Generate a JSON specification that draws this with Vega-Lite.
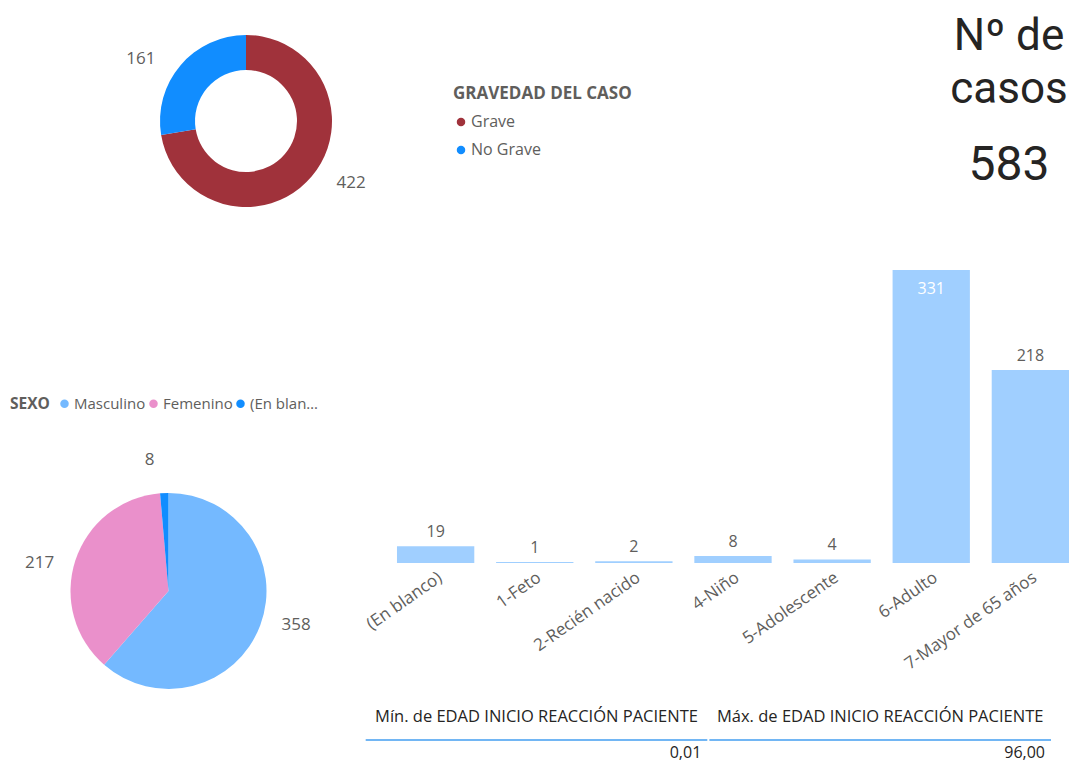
{
  "$schema": "https://vega.github.io/schema/vega-lite/v6.json",
  "padding": {"left": 0, "top": 0, "right": 0, "bottom": 4},
  "background": "white",
  "spacing": 18,
  "resolve": {"scale": {"color": "independent"}, "legend": {"color": "independent"}},
  "datasets": {
    "gravedad": [
      {"gravedad": "Grave", "casos": 422},
      {"gravedad": "No Grave", "casos": 161}
    ],
    "sexo": [
      {"variable": "SEXO", "sexo": "Masculino", "casos": 358},
      {"variable": "SEXO", "sexo": "Femenino", "casos": 217},
      {"variable": "SEXO", "sexo": "(En blanco)", "casos": 8}
    ],
    "edad": [
      {"grupo": "(En blanco)", "casos": 19},
      {"grupo": "1-Feto", "casos": 1},
      {"grupo": "2-Recién nacido", "casos": 2},
      {"grupo": "4-Niño", "casos": 8},
      {"grupo": "5-Adolescente", "casos": 4},
      {"grupo": "6-Adulto", "casos": 331},
      {"grupo": "7-Mayor de 65 años", "casos": 218}
    ],
    "tabla": [
      {"medida": "Mín. de EDAD INICIO REACCIÓN PACIENTE", "valor": 0.01},
      {"medida": "Máx. de EDAD INICIO REACCIÓN PACIENTE", "valor": 96}
    ]
  },
  "config": {
    "view": {"stroke": null},
    "font": "Open Sans",
    "locale": {"number": {"decimal": ",", "thousands": ".", "grouping": [3], "currency": ["", " €"]}},
    "legend": {
      "symbolType": "circle",
      "symbolSize": 72,
      "labelFontSize": 15,
      "labelColor": "#605E5C",
      "titleFontSize": 15.5,
      "titleFontWeight": "bold",
      "titleColor": "#605E5C",
      "labelOffset": 2,
      "symbolStrokeWidth": 0
    }
  },
  "vconcat": [
    {
      "bounds": "flush",
      "spacing": 455,
      "resolve": {"scale": {"color": "independent"}, "legend": {"color": "independent"}},
      "hconcat": [
        {
          "width": 492,
          "height": 242,
          "data": {"name": "gravedad"},
          "encoding": {
            "theta": {"field": "casos", "type": "quantitative", "stack": true},
            "order": {"field": "casos", "sort": "descending"}
          },
          "layer": [
            {
              "mark": {"type": "arc", "outerRadius": 86, "innerRadius": 51},
              "encoding": {
                "color": {
                  "field": "gravedad",
                  "type": "nominal",
                  "scale": {"domain": ["Grave", "No Grave"], "range": ["#A0323B", "#118DFF"]},
                  "legend": {
                    "title": "GRAVEDAD DEL CASO",
                    "titleFontSize": 17,
                    "labelFontSize": 16,
                    "orient": "none",
                    "legendX": 453,
                    "legendY": 86,
                    "direction": "vertical",
                    "rowPadding": 12,
                    "titlePadding": 11
                  }
                }
              }
            },
            {
              "mark": {"type": "text", "radius": 122, "thetaOffset": -0.17, "fontSize": 17, "color": "#605E5C"},
              "encoding": {"text": {"field": "casos", "type": "quantitative"}}
            }
          ]
        },
        {
          "width": 124,
          "height": 252,
          "data": {"name": "gravedad"},
          "transform": [{"aggregate": [{"op": "sum", "field": "casos", "as": "total"}]}],
          "layer": [
            {
              "mark": {"type": "text", "font": "Roboto", "fontSize": 44, "color": "#252423", "baseline": "alphabetic", "dy": -76, "lineHeight": 53},
              "encoding": {"text": {"value": ["Nº de", "casos"]}}
            },
            {
              "mark": {"type": "text", "font": "Roboto", "fontSize": 48, "color": "#252423", "baseline": "alphabetic", "dy": 54},
              "encoding": {"text": {"field": "total", "type": "quantitative"}}
            }
          ]
        }
      ]
    },
    {
      "bounds": "flush",
      "spacing": 58,
      "resolve": {"scale": {"color": "independent"}, "legend": {"color": "independent"}},
      "hconcat": [
        {
          "width": 337,
          "height": 420,
          "data": {"name": "sexo"},
          "encoding": {
            "theta": {"field": "casos", "type": "quantitative", "stack": true},
            "order": {"field": "casos", "sort": "descending"},
            "y": {"field": "variable", "type": "nominal", "scale": {"type": "point", "align": 0.764}, "axis": null}
          },
          "layer": [
            {
              "mark": {"type": "arc", "outerRadius": 98},
              "encoding": {
                "color": {
                  "field": "sexo",
                  "type": "nominal",
                  "scale": {"domain": ["Masculino", "Femenino", "(En blanco)"], "range": ["#74B9FF", "#EA90CB", "#118DFF"]},
                  "legend": {
                    "title": "SEXO",
                    "orient": "none",
                    "legendX": 10,
                    "legendY": 126,
                    "direction": "horizontal",
                    "titleOrient": "left",
                    "titlePadding": 7,
                    "labelLimit": 73,
                    "columnPadding": 0
                  }
                }
              }
            },
            {
              "mark": {"type": "text", "radius": 132, "thetaOffset": -0.1, "fontSize": 17, "color": "#605E5C"},
              "encoding": {"text": {"field": "casos", "type": "quantitative"}}
            }
          ]
        },
        {
          "width": 676,
          "height": 293,
          "data": {"name": "edad"},
          "encoding": {
            "x": {
              "field": "grupo",
              "type": "nominal",
              "sort": null,
              "scale": {"paddingInner": 0.22, "paddingOuter": 0.02},
              "axis": {"title": null, "labelAngle": -35, "domain": false, "ticks": false, "labelFontSize": 17, "labelColor": "#605E5C", "labelPadding": 6}
            },
            "y": {"field": "casos", "type": "quantitative", "scale": {"domain": [0, 331], "nice": false, "zero": true}, "axis": null}
          },
          "layer": [
            {"mark": {"type": "bar", "color": "#A0CFFF"}},
            {
              "transform": [{"filter": "datum.casos < 300"}],
              "mark": {"type": "text", "baseline": "bottom", "dy": -6, "fontSize": 16, "color": "#605E5C"},
              "encoding": {"text": {"field": "casos", "type": "quantitative"}}
            },
            {
              "transform": [{"filter": "datum.casos >= 300"}],
              "mark": {"type": "text", "baseline": "top", "dy": 11, "fontSize": 16, "color": "#FFFFFF"},
              "encoding": {"text": {"field": "casos", "type": "quantitative"}}
            }
          ]
        }
      ]
    },
    {
      "width": 1051,
      "height": 2,
      "data": {"name": "tabla"},
      "encoding": {
        "x": {
          "field": "medida",
          "type": "nominal",
          "sort": null,
          "scale": {"paddingInner": 0.006, "paddingOuter": 0.532, "align": 1},
          "axis": {"orient": "top", "title": null, "labelAngle": 0, "domain": false, "ticks": false, "labelFontSize": 16.5, "labelColor": "#252423", "labelPadding": 15, "labelLimit": 500}
        }
      },
      "layer": [
        {"mark": {"type": "bar", "color": "#72B6F4"}},
        {
          "mark": {"type": "text", "align": "right", "baseline": "top", "dx": -6, "dy": 5, "fontSize": 16, "color": "#252423"},
          "encoding": {
            "x": {"field": "medida", "type": "nominal", "sort": null, "bandPosition": 1},
            "text": {"field": "valor", "type": "quantitative", "format": ".2f"}
          }
        }
      ]
    }
  ]
}
